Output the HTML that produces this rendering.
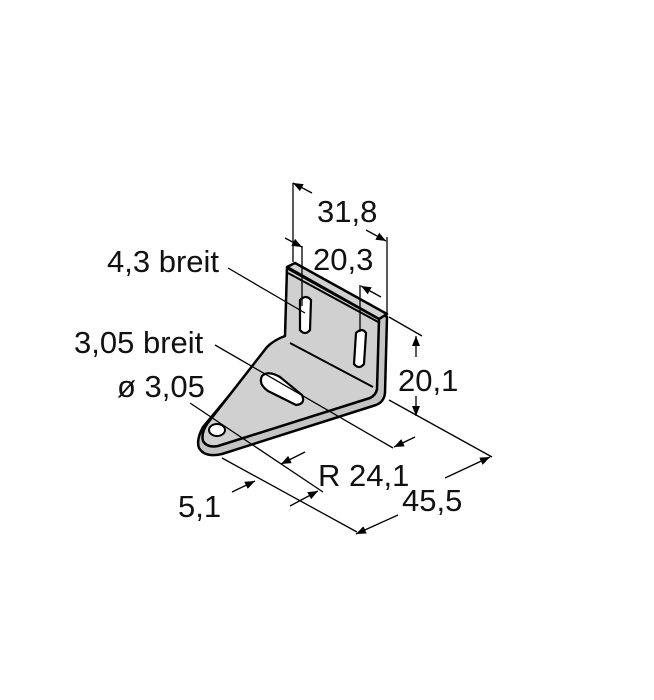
<!DOCTYPE html>
<html><head><meta charset="utf-8"><style>
html,body{margin:0;padding:0;background:#fff;}
svg{display:block;}
text{font-family:"Liberation Sans",sans-serif;font-size:31px;fill:#111;}
</style></head><body>
<svg width="654" height="700" viewBox="0 0 654 700" xmlns="http://www.w3.org/2000/svg">
<defs>
<marker id="a" markerWidth="10" markerHeight="8" refX="10" refY="4" orient="auto" markerUnits="userSpaceOnUse">
<path d="M0,0 L10,4 L0,8 z" fill="#000"/></marker>
</defs>
<g stroke="#000" stroke-width="2.5" stroke-linejoin="round" fill="#c8c8c8">
<path d="M295,265 L387,317 L385,393 Q384,402 376,405 L222,454 Q205,458 199,448 Q196,440 203,427 L267,350 L287,336 L287,270 Z" fill="#c4c4c4"/>
<path d="M287,267 L295,263 L387,314 L379,319 Z" fill="#d2d2d2"/>
<path d="M287,268 L379,319 L377,389 Q376,395 370,398 L218,446 Q207,448 203,441 Q201,433 207,424 L267,347 Q274,340 285,336 Z" fill="#d0d0d0"/>
</g>
<g stroke="#000" stroke-width="2" fill="none">
<line x1="290" y1="343" x2="373" y2="387"/>
<line x1="288" y1="273" x2="380" y2="323"/>
<ellipse cx="217" cy="430" rx="8" ry="6" fill="#fff"/>
</g>
<g stroke="#000" stroke-width="2.2" fill="#fff">
<path d="M300,300 Q306,294 311,300 L310,330 Q305,336 300,330 Z"/>
<path d="M356,333 Q362,327 366,333 L364,364 Q359,370 354,364 Z"/>
<path d="M262,376 Q268,370 280,377 L302,395 Q306,404 296,405 L268,391 Q258,384 262,376 Z"/>
</g>
<g stroke="#000" stroke-width="1.3" fill="none">
<line x1="293" y1="183" x2="293" y2="262"/>
<line x1="387" y1="237" x2="387" y2="316"/>
<line x1="312" y1="193" x2="293" y2="183" marker-end="url(#a)"/>
<line x1="366" y1="230" x2="386" y2="241" marker-end="url(#a)"/>
<line x1="302" y1="246" x2="302" y2="306"/>
<line x1="360" y1="285" x2="360" y2="332"/>
<line x1="285" y1="238" x2="302" y2="247" marker-end="url(#a)"/>
<line x1="381" y1="297" x2="361" y2="286" marker-end="url(#a)"/>
<line x1="389" y1="317" x2="422" y2="336"/>
<line x1="389" y1="400" x2="492" y2="457"/>
<line x1="416" y1="357" x2="416" y2="336" marker-end="url(#a)"/>
<line x1="416" y1="396" x2="416" y2="416" marker-end="url(#a)"/>
<line x1="222" y1="458" x2="357" y2="532"/>
<line x1="445" y1="478" x2="490" y2="457" marker-end="url(#a)"/>
<line x1="398" y1="515" x2="356" y2="534" marker-end="url(#a)"/>
<line x1="228" y1="268" x2="305" y2="313"/>
<line x1="215" y1="345" x2="393" y2="448"/>
<line x1="415" y1="437" x2="394" y2="447" marker-end="url(#a)"/>
<line x1="190" y1="403" x2="323" y2="492"/>
<line x1="290" y1="506" x2="318" y2="491" marker-end="url(#a)"/>
<line x1="305" y1="452" x2="281" y2="464" marker-end="url(#a)"/>
<line x1="232" y1="492" x2="255" y2="481" marker-end="url(#a)"/>
</g>
<text x="317" y="222">31,8</text>
<text x="313" y="270">20,3</text>
<text x="107" y="272">4,3 breit</text>
<text x="74" y="353">3,05 breit</text>
<text x="117" y="397">ø 3,05</text>
<text x="398" y="391">20,1</text>
<text x="318" y="486">R 24,1</text>
<text x="402" y="511">45,5</text>
<text x="178" y="517">5,1</text>
</svg>
</body></html>
